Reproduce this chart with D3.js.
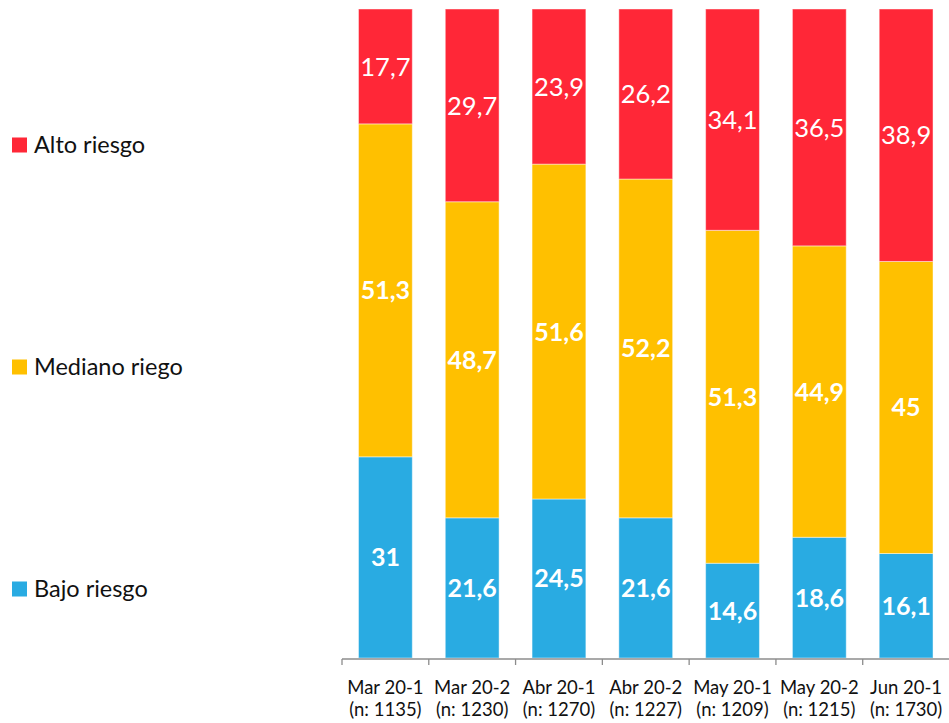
<!DOCTYPE html>
<html><head><meta charset="utf-8">
<script src="https://cdn.jsdelivr.net/npm/d3@7"></script>
<style>body{margin:0;background:#fff;} svg{display:block;}</style>
</head><body>
<svg id="c" width="949" height="723"></svg>
<script>
const categories = ["Mar 20-1","Mar 20-2","Abr 20-1","Abr 20-2","May 20-1","May 20-2","Jun 20-1"];
const sampleSizes = ["(n: 1135)","(n: 1230)","(n: 1270)","(n: 1227)","(n: 1209)","(n: 1215)","(n: 1730)"];
const bajo = [31, 21.6, 24.5, 21.6, 14.6, 18.6, 16.1];
const mediano = [51.3, 48.7, 51.6, 52.2, 51.3, 44.9, 45];
const alto = [17.7, 29.7, 23.9, 26.2, 34.1, 36.5, 38.9];
const seriesNames = ["Bajo riesgo","Mediano riego","Alto riesgo"];
const colors = ["#29ABE2","#FFC000","#FF2737"];

const svg = d3.select("#c");
const font = "Lato, 'Open Sans', sans-serif";
const x = d3.scaleBand().domain(categories).range([342, 949.5]).paddingInner(0.38).paddingOuter(0.19);
const y = d3.scaleLinear().domain([0, 100]).range([658, 9]);

const rows = categories.map((c, i) => ({cat: c, b: bajo[i], m: mediano[i], a: alto[i]}));
const stack = d3.stack().keys(["b","m","a"])(rows);

stack.forEach((layer, li) => {
  const g = svg.append("g");
  g.selectAll("rect").data(layer).join("rect")
    .attr("x", d => x(d.data.cat))
    .attr("width", x.bandwidth())
    .attr("y", d => y(d[1]))
    .attr("height", d => y(d[0]) - y(d[1]))
    .attr("fill", colors[li])
    .attr("stroke", "rgba(255,255,255,0.45)")
    .attr("stroke-width", 1);
  g.selectAll("text").data(layer).join("text")
    .attr("x", d => x(d.data.cat) + x.bandwidth() / 2)
    .attr("y", d => (y(d[0]) + y(d[1])) / 2)
    .attr("dy", "0.36em")
    .attr("text-anchor", "middle")
    .attr("fill", "#fff")
    .attr("font-family", font)
    .attr("font-size", li === 2 ? 25.5 : 25)
    .attr("font-weight", li === 2 ? 400 : 700)
    .text(d => String(+(d[1]-d[0]).toFixed(1)).replace(".", ","));
});

// axis
const axisG = svg.append("g");
const bounds = d3.range(categories.length + 1).map(i => x.range()[0] + i * x.step());
axisG.append("line").attr("x1", 342).attr("x2", 949).attr("y1", 659).attr("y2", 659)
  .attr("stroke", "#8c8c8c").attr("stroke-width", 1.3);
axisG.selectAll("line.t").data(bounds.slice(0, 7)).join("line").attr("class","t")
  .attr("x1", d => d).attr("x2", d => d).attr("y1", 659).attr("y2", 665)
  .attr("stroke", "#8c8c8c").attr("stroke-width", 1.3);

const lab = svg.append("g");
lab.selectAll("text.l1").data(categories).join("text").attr("class","l1")
  .attr("x", d => x(d) + x.bandwidth()/2).attr("y", 694)
  .attr("text-anchor","middle").attr("font-family", font).attr("font-size", 18.5).attr("fill","#111")
  .text(d => d);
lab.selectAll("text.l2").data(sampleSizes).join("text").attr("class","l2")
  .attr("x", (d,i) => x(categories[i]) + x.bandwidth()/2).attr("y", 716)
  .attr("text-anchor","middle").attr("font-family", font).attr("font-size", 18.5).attr("fill","#111")
  .text(d => d);

// legend
const legendY = [589, 367, 145];
const leg = svg.append("g");
seriesNames.forEach((n, i) => {
  leg.append("rect").attr("x", 12).attr("y", legendY[i] - 7.5).attr("width", 15).attr("height", 15).attr("fill", colors[i]);
  leg.append("text").attr("x", 34).attr("y", legendY[i]).attr("dy","0.36em")
    .attr("font-family", font).attr("font-size", 23.5).attr("fill","#111").text(n);
});
</script>
</body></html>
